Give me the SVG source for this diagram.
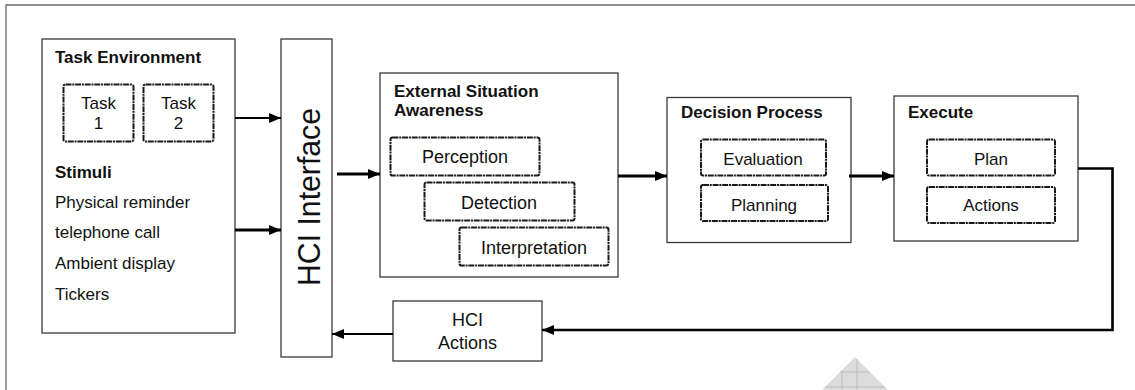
<svg xmlns="http://www.w3.org/2000/svg" width="1135" height="390" viewBox="0 0 1135 390">
  <style>
    .box { fill: #ffffff; stroke: #3a3a3a; stroke-width: 1.3; }
    .sub { fill: none; stroke: #1a1a1a; stroke-width: 2; stroke-dasharray: 6 0.8 2 0.8; }
    .t { font-family: "Liberation Sans", Arial, sans-serif; font-size: 17px; fill: #111; }
    .big { font-size: 18px; }
    .b { font-weight: bold; }
    .c { text-anchor: middle; }
    .link { fill: none; stroke: #000; }
  </style>
  <defs>
    <marker id="arrow" markerUnits="userSpaceOnUse" markerWidth="13" markerHeight="11" refX="12" refY="5" orient="auto">
      <path d="M0,0 L12,5 L0,10 Z" fill="#000"/>
    </marker>
  </defs>

  <rect width="1135" height="390" fill="#ffffff"/>
  <!-- page frame -->
  <path d="M6,390 V5 H1135" fill="none" stroke="#6a6a6a" stroke-width="1.3"/>

  <!-- decorative grid triangle at the bottom edge -->
  <g id="corner-mark">
    <polygon points="855,357 888,390 822,390" fill="#dcdcdc"/>
    <path d="M842,370 V390 M857,359 V390 M840,372 H870 M825,387 H885" stroke="#bdbdbd" stroke-width="1" fill="none"/>
  </g>

  <g id="task-environment">
    <rect class="box" x="42" y="39" width="193" height="294"/>
    <text class="t b" x="55" y="63">Task Environment</text>
    <rect class="sub" x="63.5" y="84.5" width="70" height="57" rx="2"/>
    <text class="t c" x="98.5" y="109">Task</text>
    <text class="t c" x="98.5" y="129">1</text>
    <rect class="sub" x="143.5" y="84.5" width="70" height="57" rx="2"/>
    <text class="t c" x="178.5" y="109">Task</text>
    <text class="t c" x="178.5" y="129">2</text>
    <text class="t b" x="55" y="178">Stimuli</text>
    <text class="t" x="55" y="208">Physical reminder</text>
    <text class="t" x="55" y="238">telephone call</text>
    <text class="t" x="55" y="269">Ambient display</text>
    <text class="t" x="55" y="300">Tickers</text>
  </g>

  <g id="hci-interface">
    <rect class="box" x="281" y="39" width="51" height="318"/>
    <text class="t c" transform="translate(319.5,197) rotate(-90)" style="font-size:32px" textLength="178" lengthAdjust="spacingAndGlyphs">HCI Interface</text>
  </g>

  <g id="external-situation-awareness">
    <rect class="box" x="380" y="73" width="238" height="204"/>
    <text class="t b" x="394" y="97">External Situation</text>
    <text class="t b" x="394" y="116">Awareness</text>
    <rect class="sub" x="390.5" y="137.5" width="149" height="38" rx="2"/>
    <text class="t big c" x="465" y="163">Perception</text>
    <rect class="sub" x="424.5" y="182.5" width="150" height="38" rx="2"/>
    <text class="t big c" x="499" y="209">Detection</text>
    <rect class="sub" x="459.5" y="227.5" width="149" height="38" rx="2"/>
    <text class="t big c" x="534" y="254">Interpretation</text>
  </g>

  <g id="decision-process">
    <rect class="box" x="667" y="97.5" width="184" height="145"/>
    <text class="t b" x="681" y="118">Decision Process</text>
    <rect class="sub" x="701" y="139.5" width="125" height="36" rx="2"/>
    <text class="t c" x="763" y="165">Evaluation</text>
    <rect class="sub" x="701" y="185" width="127" height="36" rx="2"/>
    <text class="t c" x="764" y="210.5">Planning</text>
  </g>

  <g id="execute">
    <rect class="box" x="894" y="96" width="184" height="145"/>
    <text class="t b" x="908" y="118">Execute</text>
    <rect class="sub" x="927" y="139.5" width="128" height="36" rx="2"/>
    <text class="t c" x="991" y="165">Plan</text>
    <rect class="sub" x="927" y="187" width="128" height="36" rx="2"/>
    <text class="t c" x="991" y="211">Actions</text>
  </g>

  <g id="hci-actions">
    <rect class="box" x="393" y="301" width="149" height="60"/>
    <text class="t big c" x="467.5" y="326">HCI</text>
    <text class="t big c" x="467.5" y="349">Actions</text>
  </g>

  <g id="connectors">
    <path class="link" d="M235,118 H281" stroke-width="2" marker-end="url(#arrow)"/>
    <path class="link" d="M235,230 H281" stroke-width="3" marker-end="url(#arrow)"/>
    <path class="link" d="M337,174 H380" stroke-width="3" marker-end="url(#arrow)"/>
    <path class="link" d="M618,176 H667" stroke-width="3" marker-end="url(#arrow)"/>
    <path class="link" d="M849,176 H894" stroke-width="3" marker-end="url(#arrow)"/>
    <path class="link" d="M1078,168.5 H1112.5 V330 H542" stroke-width="2.6" marker-end="url(#arrow)"/>
    <path class="link" d="M393,334 H332" stroke-width="2" marker-end="url(#arrow)"/>
  </g>
</svg>
